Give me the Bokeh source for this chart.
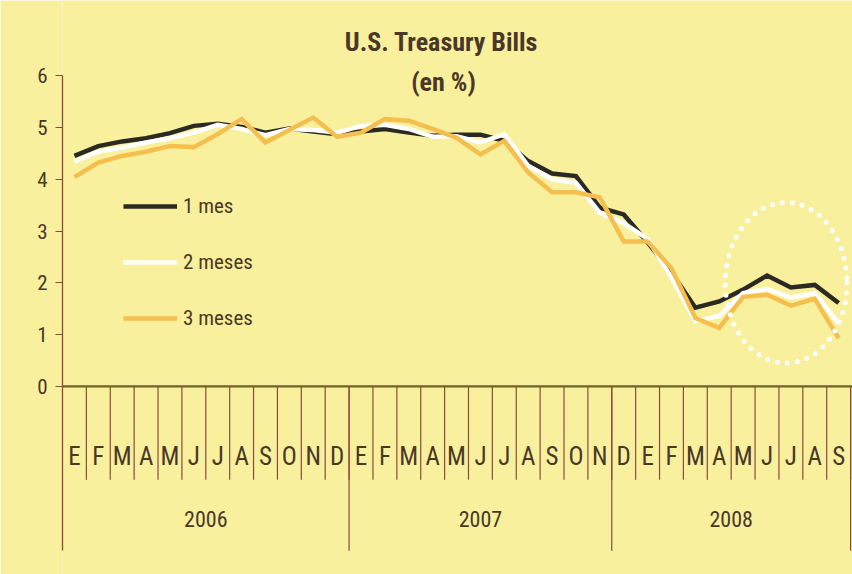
from bokeh.plotting import figure
from bokeh.models import Range1d, FixedTicker, Legend, LegendItem, Label
from bokeh.core.properties import value
from bokeh.embed import file_html
from bokeh.resources import INLINE

# ---- data ----
months_2006 = ["E", "F", "M", "A", "M", "J", "J", "A", "S", "O", "N", "D"]
months_2007 = ["E", "F", "M", "A", "M", "J", "J", "A", "S", "O", "N"]
months_2008 = ["D", "E", "F", "M", "A", "M", "J", "J", "A", "S"]
years = ["2006", "2007", "2008"]

bill_1m = [4.45, 4.64, 4.73, 4.79, 4.89, 5.03, 5.07, 5.01, 4.90, 4.98, 4.92, 4.87,
           4.92, 4.97, 4.90, 4.84, 4.86, 4.86, 4.74, 4.35, 4.11, 4.06, 3.45,
           3.32, 2.78, 2.20, 1.52, 1.64, 1.87, 2.14, 1.91, 1.96, 1.61]
bill_2m = [4.34, 4.53, 4.61, 4.71, 4.79, 4.90, 5.05, 4.97, 4.85, 4.97, 4.95, 4.90,
           5.03, 5.05, 4.97, 4.82, 4.83, 4.71, 4.87, 4.26, 4.00, 3.93, 3.35,
           3.15, 2.85, 2.10, 1.26, 1.36, 1.80, 1.88, 1.72, 1.80, 1.22]
bill_3m = [4.04, 4.32, 4.45, 4.53, 4.64, 4.62, 4.87, 5.16, 4.71, 4.95, 5.19, 4.82,
           4.90, 5.16, 5.13, 4.97, 4.80, 4.48, 4.74, 4.13, 3.75, 3.75, 3.65,
           2.80, 2.80, 2.28, 1.32, 1.13, 1.73, 1.77, 1.56, 1.69, 0.93]
series_names = ["1 mes", "2 meses", "3 meses"]
y_ticks = [0, 1, 2, 3, 4, 5, 6]

# ---- styling ----
BG = "#f8f09c"
TXT = "#4a3728"
RULE = "#8c4b3f"
ZERO = "#6e6427"
FONT = "Roboto Condensed"
COLORS = ["#2b2a22", "#ffffff", "#f5bf4f"]

month_labels = months_2006 + months_2007 + months_2008
n = len(month_labels)
idx = list(range(n))
group_sizes = [len(months_2006), len(months_2007), len(months_2008)]
x_end = n - 0.42

p = figure(width=852, height=574, output_backend="svg", toolbar_location=None,
           x_range=Range1d(-0.5, x_end), y_range=Range1d(-3.63, 7.45),
           x_axis_location=None, y_axis_location="left",
           min_border_left=62, min_border_right=0, min_border_top=0, min_border_bottom=0)
p.background_fill_color = BG
p.border_fill_color = BG
p.outline_line_color = None
p.grid.visible = False

ax = p.yaxis[0]
ax.ticker = FixedTicker(ticks=y_ticks)
ax.bounds = (-3.17, max(y_ticks))
ax.axis_line_color = RULE
ax.axis_line_width = 1.3
ax.major_tick_line_color = RULE
ax.major_tick_out = 7
ax.major_tick_in = 0
ax.minor_tick_out = 0
ax.minor_tick_in = 0
ax.major_label_standoff = 8
ax.major_label_text_font = FONT
ax.major_label_text_font_size = "21px"
ax.major_label_text_color = TXT

# month dividers
bx = [k - 0.5 for k in range(1, n + 1)]
p.segment(x0=bx, y0=[0] * len(bx), x1=bx, y1=[-1.8] * len(bx), line_color=RULE, line_width=1.2)
# year dividers
cum = []
s = 0
for g in group_sizes:
    s += g
    cum.append(s - 0.5)
p.segment(x0=cum, y0=[0] * len(cum), x1=cum, y1=[-3.17] * len(cum), line_color=RULE, line_width=1.2)
# zero line
p.segment(x0=[-0.5], y0=[0], x1=[x_end], y1=[0], line_color=ZERO, line_width=2.2)

# month & year labels
p.text(x=idx, y=[-1.36] * n, text=month_labels, text_align="center", text_baseline="middle",
       text_font=value(FONT), text_font_size=value("25px"), text_color=TXT)
starts = [c + 0.5 - g for c, g in zip(cum, group_sizes)]
ycent = [(a - 0.5 + b) / 2 for a, b in zip(starts, cum)]
p.text(x=ycent, y=[-2.55] * len(years), text=years, text_align="center", text_baseline="middle",
       text_font=value(FONT), text_font_size=value("22px"), text_color=TXT)

# series
renderers = []
for vals, col in zip([bill_1m, bill_2m, bill_3m], COLORS):
    r = p.line(idx, vals, line_color=col, line_width=4.5, line_join="miter")
    renderers.append(r)

# highlight ellipse
p.ellipse(x=[29.8], y=[2.0], width=[5.1], height=[3.1], fill_alpha=0, line_color="white",
          line_width=5, line_dash="0 10", line_cap="round")

legend = Legend(items=[LegendItem(label=nm, renderers=[r]) for nm, r in zip(series_names, renderers)],
                location=(61, 244), orientation="vertical", glyph_width=54, glyph_height=24,
                label_height=24, spacing=32, padding=0, margin=0, label_standoff=6,
                background_fill_alpha=0, border_line_alpha=0,
                label_text_font=FONT, label_text_font_size="21px", label_text_color=TXT)
p.add_layout(legend)

p.add_layout(Label(x=379, y=533, x_units="screen", y_units="screen", text="U.S. Treasury Bills",
                   text_align="center", text_baseline="middle", text_font=FONT,
                   text_font_size="26px", text_font_style="bold", text_color=TXT))
p.add_layout(Label(x=381, y=493, x_units="screen", y_units="screen", text="(en %)",
                   text_align="center", text_baseline="middle", text_font=FONT,
                   text_font_size="26px", text_font_style="bold", text_color=TXT))

open("out.html", "w").write(file_html(p, INLINE))
